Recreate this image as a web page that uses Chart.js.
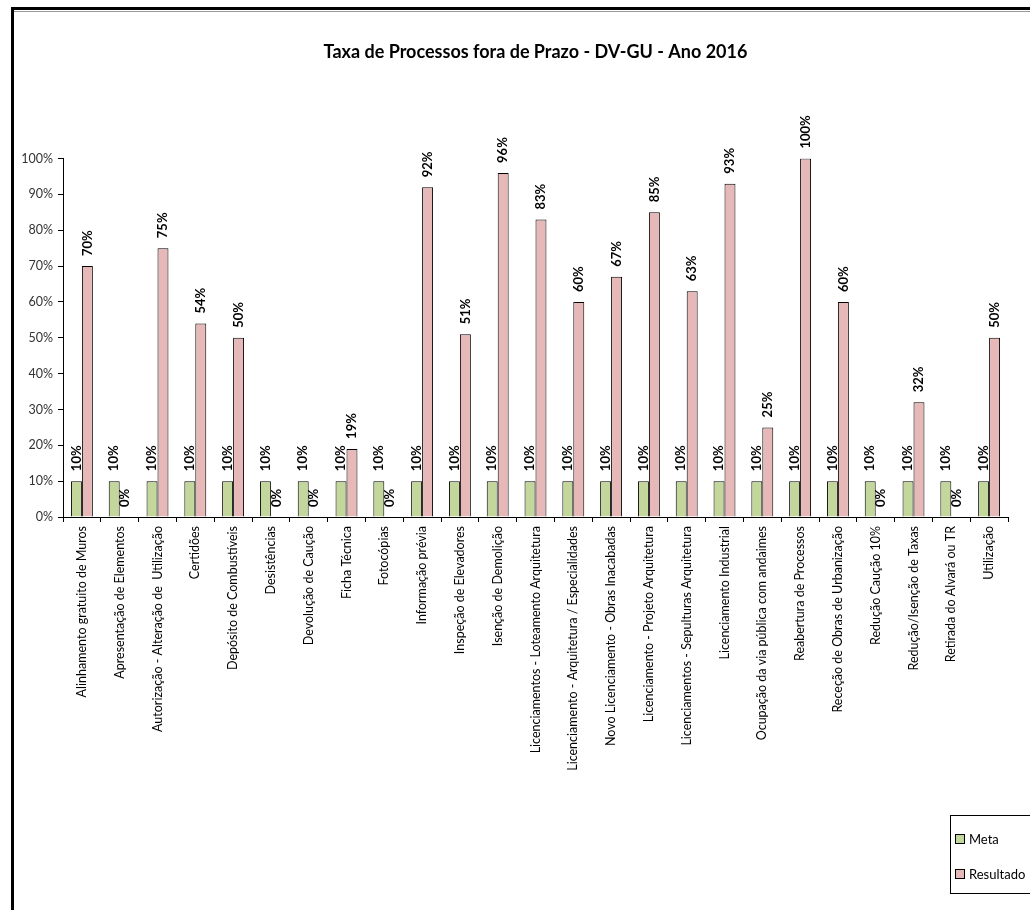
<!DOCTYPE html>
<html>
<head>
<meta charset="utf-8">
<script src="https://cdn.jsdelivr.net/npm/chart.js@4/dist/chart.umd.min.js"></script>
<style>
  html, body { margin: 0; padding: 0; background: #fff; }
  #wrap { position: relative; width: 1030px; height: 910px; overflow: hidden; }
  #frame { position: absolute; left: 11px; top: 7px; right: -5px; bottom: -5px; border-top: 3px solid #000; border-left: 3px solid #000; }
  #frame2 { position: absolute; left: 14px; top: 11px; right: 0; height: 1px; background: #999; }
  canvas { position: absolute; left: 0; top: 0; }
</style>
</head>
<body>
<div id="wrap">
  <div id="frame"></div>
  <div id="frame2"></div>
  <canvas id="myChart" width="1030" height="910"></canvas>
</div>
<script>
// categorias (processos)
const categorias = [
  'Alinhamento gratuito de Muros',
  'Apresentação de Elementos',
  'Autorização - Alteração de  Utilização',
  'Certidões',
  'Depósito de Combustíveis',
  'Desistências',
  'Devolução de Caução',
  'Ficha Técnica',
  'Fotocópias',
  'Informação prévia',
  'Inspeção de Elevadores',
  'Isenção de Demolição',
  'Licenciamentos - Loteamento Arquitetura',
  'Licenciamento - Arquitetura / Especialidades',
  'Novo Licenciamento - Obras Inacabadas',
  'Licenciamento - Projeto Arquitetura',
  'Licenciamentos - Sepulturas Arquitetura',
  'Licenciamento Industrial',
  'Ocupação da via pública com andaimes',
  'Reabertura de Processos',
  'Receção de Obras de Urbanização',
  'Redução Caução 10%',
  'Redução/Isenção de Taxas',
  'Retirada do Alvará ou TR',
  'Utilização'
];

// valores em %
const meta = [10, 10, 10, 10, 10, 10, 10, 10, 10, 10, 10, 10, 10, 10, 10, 10, 10, 10, 10, 10, 10, 10, 10, 10, 10];
const resultado = [70, 0, 75, 54, 50, 0, 0, 19, 0, 92, 51, 96, 83, 60, 67, 85, 63, 93, 25, 100, 60, 0, 32, 0, 50];

const yTicks = [0, 10, 20, 30, 40, 50, 60, 70, 80, 90, 100];

const FONT = 'Lato, "Liberation Sans", sans-serif';

// rótulos de valor rodados por cima das barras
const valueLabels = {
  id: 'valueLabels',
  afterDatasetsDraw(chart) {
    const ctx = chart.ctx;
    ctx.save();
    ctx.font = 'bold 13px ' + FONT;
    ctx.fillStyle = '#000';
    ctx.textAlign = 'left';
    ctx.textBaseline = 'middle';
    chart.data.datasets.forEach((ds, i) => {
      chart.getDatasetMeta(i).data.forEach((el, j) => {
        ctx.save();
        ctx.translate(el.x, el.y - 10);
        ctx.rotate(-Math.PI / 2);
        ctx.fillText(ds.data[j] + '%', 0, 0);
        ctx.restore();
      });
    });
    ctx.restore();
  }
};

// legenda em caixa no canto inferior direito
const boxLegend = {
  id: 'boxLegend',
  afterDraw(chart) {
    const ctx = chart.ctx;
    ctx.save();
    ctx.strokeStyle = '#000';
    ctx.lineWidth = 1;
    ctx.strokeRect(950.5, 815.5, 100, 78);
    ctx.font = '13px ' + FONT;
    ctx.textBaseline = 'middle';
    ctx.textAlign = 'left';
    chart.data.datasets.forEach((ds, i) => {
      const y = 839 + i * 35;
      ctx.fillStyle = ds.backgroundColor;
      ctx.fillRect(955, y - 5, 10, 10);
      ctx.strokeRect(955.5, y - 4.5, 9, 9);
      ctx.fillStyle = '#000';
      ctx.fillText(ds.label, 969, y + 1);
    });
    ctx.restore();
  }
};

const ctx = document.getElementById('myChart');
new Chart(ctx, {
  type: 'bar',
  data: {
    labels: categorias,
    datasets: [
      {
        label: 'Meta',
        data: meta,
        backgroundColor: '#C3D69B',
        borderColor: '#000',
        borderWidth: 1,
        categoryPercentage: 0.58,
        barPercentage: 1
      },
      {
        label: 'Resultado',
        data: resultado,
        backgroundColor: '#E6B9B8',
        borderColor: '#000',
        borderWidth: 1,
        categoryPercentage: 0.58,
        barPercentage: 1
      }
    ]
  },
  options: {
    responsive: false,
    animation: false,
    layout: { padding: { top: 0, left: 0, right: 22, bottom: 133 } },
    plugins: {
      legend: { display: false },
      tooltip: { enabled: false },
      title: {
        display: true,
        text: 'Taxa de Processos fora de Prazo - DV-GU - Ano 2016',
        fullSize: false,
        color: '#000',
        font: { family: FONT, size: 18, weight: 'bold' },
        padding: { top: 41, bottom: 96 }
      }
    },
    scales: {
      x: {
        afterFit(scale) { scale.height = 260; },
        grid: { display: true, drawOnChartArea: false, drawTicks: true, tickLength: 5, color: '#000', offset: true },
        border: { display: true, color: '#000', width: 1 },
        ticks: {
          autoSkip: false,
          maxRotation: 90,
          minRotation: 90,
          padding: 4,
          color: '#000',
          font: { family: FONT, size: 12.5 }
        }
      },
      y: {
        min: 0,
        max: 100,
        afterFit(scale) { scale.width = 63; },
        afterBuildTicks(scale) { scale.ticks = yTicks.map(v => ({ value: v })); },
        grid: { display: true, drawOnChartArea: false, drawTicks: true, tickLength: 5, color: '#000' },
        border: { display: true, color: '#000', width: 1 },
        ticks: {
          padding: 5,
          color: '#333',
          font: { family: FONT, size: 12.5 },
          callback: v => v + '%'
        }
      }
    }
  },
  plugins: [valueLabels, boxLegend]
});
</script>
</body>
</html>
